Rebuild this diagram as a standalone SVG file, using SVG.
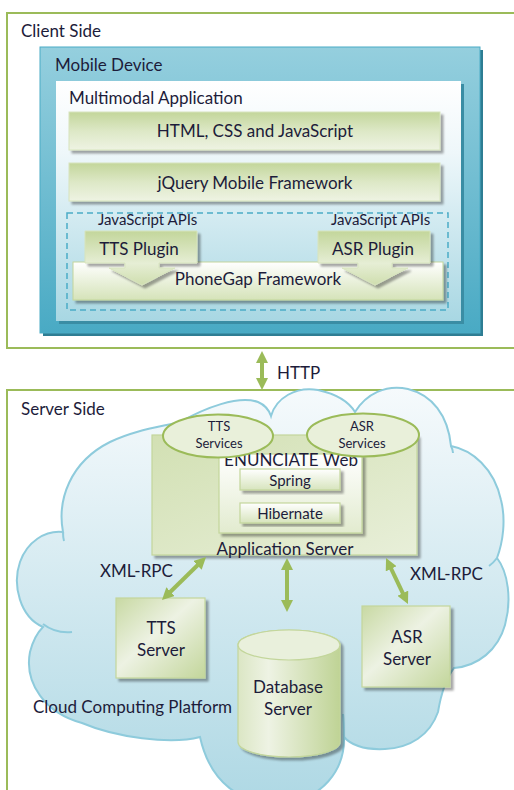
<svg xmlns="http://www.w3.org/2000/svg" width="514" height="790" viewBox="0 0 514 790">
<defs>
<style>
text{font-family:Lato,"Liberation Sans",sans-serif;fill:#1d1c3a}
.lbl{font-size:17px}
.mid{text-anchor:middle}
.sm{font-size:15px}
.xs{font-size:13px}
.frame{fill:#fff;stroke:#9bbb59;stroke-width:2}
.bar{fill:url(#gBar);stroke:#d7e4bd;stroke-width:1;filter:url(#sh)}
.conn{stroke:#9bbb59;stroke-width:4;fill:none;marker-start:url(#ah);marker-end:url(#ah)}
.gbox{stroke:#c3d69b;stroke-width:1.2;filter:url(#sh)}
</style>
<linearGradient id="gMobile" x1="0" y1="0" x2="0" y2="1"><stop offset="0" stop-color="#95cfde"/><stop offset="1" stop-color="#49aac4"/></linearGradient>
<linearGradient id="gApp" x1="0" y1="0" x2="0" y2="1"><stop offset="0" stop-color="#ffffff"/><stop offset="0.3" stop-color="#eef7fa"/><stop offset="1" stop-color="#a8d7e3"/></linearGradient>
<linearGradient id="gBar" x1="0" y1="0" x2="0" y2="1"><stop offset="0" stop-color="#c3d69b"/><stop offset="0.5" stop-color="#dde8c6"/><stop offset="1" stop-color="#eef3e3"/></linearGradient>
<linearGradient id="gPhone" x1="0" y1="0" x2="0" y2="1"><stop offset="0" stop-color="#ffffff"/><stop offset="1" stop-color="#d5e3b9"/></linearGradient>
<linearGradient id="gPlug" x1="0" y1="0" x2="0" y2="1"><stop offset="0" stop-color="#c3d69b"/><stop offset="0.6" stop-color="#e6eed5"/><stop offset="1" stop-color="#cfdeae"/></linearGradient>
<linearGradient id="gCloud" x1="0" y1="0" x2="0" y2="1"><stop offset="0" stop-color="#f6fafc"/><stop offset="1" stop-color="#aed8e4"/></linearGradient>
<linearGradient id="gAppSrv" x1="0" y1="0" x2="1" y2="1"><stop offset="0" stop-color="#d2e0b3"/><stop offset="1" stop-color="#e8efd9"/></linearGradient>
<linearGradient id="gSrv" x1="0" y1="0" x2="1" y2="1"><stop offset="0" stop-color="#c8d9a3"/><stop offset="0.45" stop-color="#edf2e3"/><stop offset="1" stop-color="#c3d69b"/></linearGradient>
<linearGradient id="gDB" x1="0" y1="0" x2="1" y2="0"><stop offset="0" stop-color="#dbe6c4"/><stop offset="0.3" stop-color="#eef3e4"/><stop offset="1" stop-color="#bfd395"/></linearGradient>
<linearGradient id="gSmall" x1="0" y1="0" x2="0" y2="1"><stop offset="0" stop-color="#ffffff"/><stop offset="1" stop-color="#d7e4bd"/></linearGradient>
<linearGradient id="gEnun" x1="0" y1="0" x2="0" y2="1"><stop offset="0" stop-color="#ffffff"/><stop offset="1" stop-color="#e2ebcf"/></linearGradient>
<filter id="sh" x="-10%" y="-10%" width="130%" height="130%"><feDropShadow dx="3" dy="3" stdDeviation="1" flood-color="#000" flood-opacity="0.35"/></filter>
<marker id="ah" viewBox="0 0 12 12" refX="3" refY="6" markerWidth="12" markerHeight="12" markerUnits="userSpaceOnUse" orient="auto-start-reverse"><path d="M0,0 L12,6 L0,12 Z" fill="#9bbb59"/></marker>
</defs>

<g id="client-side">
<rect class="frame" x="7" y="13" width="520" height="335"/>
<text class="lbl" x="21" y="37">Client Side</text>
</g>

<g id="mobile-device">
<rect x="43" y="50" width="440" height="286" fill="#2e7d93"/>
<rect x="40" y="47" width="440" height="286" fill="url(#gMobile)" stroke="#4bacc6" stroke-width="1"/>
<text class="lbl" x="55" y="71">Mobile Device</text>
</g>

<g id="multimodal-app">
<rect x="59" y="84" width="405" height="240" fill="#3a8da4"/>
<rect x="56" y="81" width="405" height="240" fill="url(#gApp)"/>
<text class="lbl" x="69" y="104">Multimodal Application</text>
</g>

<g id="html-css-js">
<rect class="bar" x="69" y="112" width="371" height="38"/>
<text class="lbl mid" x="255" y="137">HTML, CSS and JavaScript</text>
</g>

<g id="jquery-mobile">
<rect class="bar" x="69" y="163" width="371" height="38"/>
<text class="lbl mid" x="255" y="189">jQuery Mobile Framework</text>
</g>

<g id="plugin-area">
<rect x="67" y="213" width="381" height="97" fill="none" stroke="#4bacc6" stroke-width="1.5" stroke-dasharray="6 4"/>
<text class="sm" x="98" y="225">JavaScript APIs</text>
<text class="sm" x="331" y="225">JavaScript APIs</text>
</g>

<g id="phonegap">
<rect x="73" y="262" width="370" height="38" fill="url(#gPhone)" stroke="#c3d69b" stroke-width="1" filter="url(#sh)"/>
<text class="lbl mid" x="258" y="285">PhoneGap Framework</text>
</g>

<g id="tts-plugin">
<path d="M85,231 H197 V263 H159 V268 H175 L142,285 L109,268 H125 V263 H85 Z" fill="url(#gPlug)" stroke="#d7e4bd" stroke-width="1" filter="url(#sh)"/>
<text class="lbl mid" x="139" y="255">TTS Plugin</text>
</g>

<g id="asr-plugin">
<path d="M318,231 H430 V263 H392 V268 H408 L375,285 L342,268 H358 V263 H318 Z" fill="url(#gPlug)" stroke="#d7e4bd" stroke-width="1" filter="url(#sh)"/>
<text class="lbl mid" x="373" y="255">ASR Plugin</text>
</g>

<g id="server-side">
<rect class="frame" x="7" y="390" width="520" height="420"/>
<text class="lbl" x="21" y="415">Server Side</text>
</g>

<g id="cloud">
<path d="M43,627 C20,617 12,585 20,562 C27,542 45,530 63,532 C57,500 70,462 110,442 C135,430 160,427 180,422 C205,408 238,395 258,402 C265,405 269,410 271,416 C276,398 296,386 318,390 C336,394 349,402 355,412 C366,394 386,384 408,389 C432,395 448,415 451,446 C472,450 494,468 501,500 C506,520 503,542 497,558 C508,572 512,600 505,625 C498,650 478,666 454,668 C448,676 442,688 438,712 C430,735 410,748 385,749 C365,750 352,746 344,737 C345,770 322,800 282,803 C240,805 210,782 200,737 C170,745 115,737 82,723 C45,713 24,683 30,652 C33,640 38,632 43,627 Z" fill="url(#gCloud)" stroke="#8ecbdc" stroke-width="2"/>
<path d="M43,624 C52,631 62,633 72,632" fill="none" stroke="#8ecbdc" stroke-width="2"/>
<path d="M63,532 C63,536 63,538 64,541" fill="none" stroke="#8ecbdc" stroke-width="2"/>
<path d="M451,446 C452,448 453,450 453,453" fill="none" stroke="#8ecbdc" stroke-width="2"/>
<path d="M497,558 C494,562 492,564 489,566" fill="none" stroke="#8ecbdc" stroke-width="2"/>
<path d="M344,737 C344,730 344,722 343,714" fill="none" stroke="#8ecbdc" stroke-width="2"/>
<text class="lbl" x="33" y="713">Cloud Computing Platform</text>
</g>

<g id="application-server">
<rect class="gbox" x="152" y="435" width="265" height="120" fill="url(#gAppSrv)"/>
<text class="lbl mid" x="285" y="555">Application Server</text>
</g>

<g id="enunciate-web">
<rect class="gbox" x="219" y="454" width="143" height="79" fill="url(#gEnun)"/>
<text class="lbl mid" x="291" y="466">ENUNCIATE Web</text>
</g>

<g id="spring">
<rect class="gbox" x="240" y="469" width="100" height="21" fill="url(#gSmall)"/>
<text class="sm mid" x="290" y="486">Spring</text>
</g>

<g id="hibernate">
<rect class="gbox" x="240" y="503" width="100" height="20" fill="url(#gSmall)"/>
<text class="sm mid" x="290" y="519">Hibernate</text>
</g>

<g id="tts-services">
<ellipse cx="218" cy="436" rx="55" ry="21.5" fill="#e9f0da" stroke="#9bbb59" stroke-width="2"/>
<text class="xs mid" x="219" y="431">TTS</text>
<text class="xs mid" x="219" y="448">Services</text>
</g>

<g id="asr-services">
<ellipse cx="363" cy="435" rx="56" ry="21.5" fill="#e9f0da" stroke="#9bbb59" stroke-width="2"/>
<text class="xs mid" x="362" y="431">ASR</text>
<text class="xs mid" x="362" y="448">Services</text>
</g>

<g id="tts-server">
<rect class="gbox" x="116" y="598" width="89" height="80" fill="url(#gSrv)"/>
<text class="lbl mid" x="161" y="634">TTS</text>
<text class="lbl mid" x="161" y="656">Server</text>
</g>

<g id="asr-server">
<rect class="gbox" x="362" y="606" width="88" height="81" fill="url(#gSrv)"/>
<text class="lbl mid" x="407" y="643">ASR</text>
<text class="lbl mid" x="407" y="665">Server</text>
</g>

<g id="database-server">
<path d="M238,645 V742 A51,15 0 0 0 340,742 V645 A51,15 0 0 0 238,645 Z" fill="url(#gDB)" stroke="#c3d69b" stroke-width="1.2" filter="url(#sh)"/>
<ellipse cx="289" cy="645" rx="51" ry="15" fill="#e9f0dc" stroke="#c3d69b" stroke-width="1.2"/>
<text class="lbl mid" x="288" y="693">Database</text>
<text class="lbl mid" x="288" y="715">Server</text>
</g>

<g id="connectors">
<line class="conn" x1="262" y1="360" x2="262" y2="381"/>
<text class="lbl" x="277" y="379">HTTP</text>
<line class="conn" x1="199.6" y1="563.3" x2="168.4" y2="593.7"/>
<text class="lbl" x="100" y="577">XML-RPC</text>
<line class="conn" x1="287" y1="567" x2="287" y2="603"/>
<line class="conn" x1="389.9" y1="566.1" x2="404.1" y2="595.9"/>
<text class="lbl" x="410" y="580">XML-RPC</text>
</g>
</svg>
